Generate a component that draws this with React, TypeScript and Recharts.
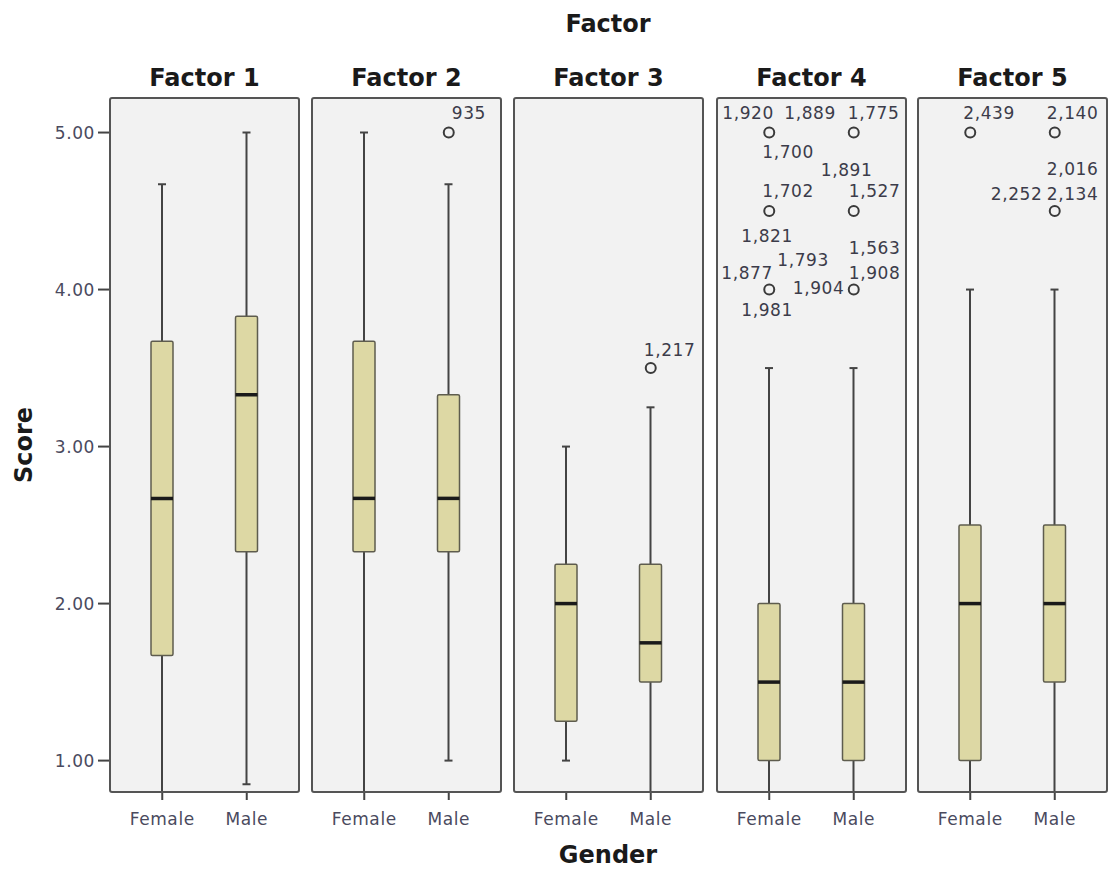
import { ComposedChart, Bar, Scatter, XAxis, YAxis, CartesianGrid } from "recharts"

const GENDERS = ["Female", "Male"]
const FACTORS = ["Factor 1", "Factor 2", "Factor 3", "Factor 4", "Factor 5"]
const Y_TICKS = [1, 2, 3, 4, 5]

// per factor, [Female, Male]
const whiskerLow = [[0.8, 0.85], [0.8, 1.0], [1.0, 0.8], [0.8, 0.8], [0.8, 0.8]]
const q1 = [[1.67, 2.33], [2.33, 2.33], [1.25, 1.5], [1.0, 1.0], [1.0, 1.5]]
const median = [[2.67, 3.33], [2.67, 2.67], [2.0, 1.75], [1.5, 1.5], [2.0, 2.0]]
const q3 = [[3.67, 3.83], [3.67, 3.33], [2.25, 2.25], [2.0, 2.0], [2.5, 2.5]]
const whiskerHigh = [[4.67, 5.0], [5.0, 4.67], [3.0, 3.25], [3.5, 3.5], [4.0, 4.0]]

// outliers: factor index, gender, value, case ids
const outlierFactor = [1, 2, 3, 3, 3, 3, 3, 3, 4, 4, 4]
const outlierGender = ["Male", "Male", "Female", "Female", "Female", "Male", "Male", "Male", "Female", "Male", "Male"]
const outlierValue = [5.0, 3.5, 5.0, 4.5, 4.0, 5.0, 4.5, 4.0, 5.0, 5.0, 4.5]
const outlierIds = [
  ["935"],
  ["1,217"],
  ["1,920", "1,889", "1,700"],
  ["1,702", "1,821"],
  ["1,793", "1,877", "1,981"],
  ["1,775"],
  ["1,891", "1,527"],
  ["1,563", "1,908", "1,904"],
  ["2,439"],
  ["2,140"],
  ["2,016", "2,252", "2,134"],
]

// label placement relative to the circle (dx to text start, dy to text middle)
const LABEL_OFFSET: Record<string, [number, number]> = {
  "935": [3, -20],
  "1,217": [-7, -18],
  "1,920": [-47, -20],
  "1,889": [15, -20],
  "1,700": [-7, 19],
  "1,775": [-6, -20],
  "1,702": [-7, -20],
  "1,821": [-28, 25],
  "1,891": [-33, -41],
  "1,527": [-5, -20],
  "1,793": [8, -30],
  "1,877": [-48, -17],
  "1,981": [-28, 20],
  "1,563": [-5, -42],
  "1,908": [-5, -17],
  "1,904": [-61, -2],
  "2,439": [-7, -20],
  "2,140": [-8, -20],
  "2,016": [-8, -42],
  "2,252": [-64, -17],
  "2,134": [-8, -17],
}

const PANEL_LEFT = [110, 312, 514, 717, 918]
const PANEL_W = 189
const PLOT_TOP = 98
const PLOT_BOTTOM = 792
const CHART_H = 872
const Y_AXIS_W = 110
const Y_DOMAIN: [number, number] = [0.8, 5.22]

const TEXT_COLOR = "#4a4a5e"
const FONT = "'DejaVu Sans', Verdana, sans-serif"

const BoxShape = (props: any) => {
  const { x, y, width, height, payload } = props
  const [lo, hi] = payload.range
  const top = Math.min(y, y + height)
  const h = Math.abs(height)
  const py = (v: number) => top + ((hi - v) / (hi - lo)) * h
  const cx = x + width / 2
  const yQ1 = py(payload.q1)
  const yQ3 = py(payload.q3)
  const yMed = py(payload.median)
  return (
    <g>
      <line x1={cx} x2={cx} y1={py(hi)} y2={yQ3} stroke="#444" strokeWidth={2} />
      <line x1={cx} x2={cx} y1={yQ1} y2={py(lo)} stroke="#444" strokeWidth={2} />
      <line x1={cx - 4} x2={cx + 4} y1={py(hi)} y2={py(hi)} stroke="#444" strokeWidth={2} />
      <line x1={cx - 4} x2={cx + 4} y1={py(lo)} y2={py(lo)} stroke="#444" strokeWidth={2} />
      <rect x={x} y={yQ3} width={width} height={yQ1 - yQ3} fill="#ddd8a4" stroke="#5e5c4e" strokeWidth={1.5} rx={1.5} />
      <line x1={x} x2={x + width} y1={yMed} y2={yMed} stroke="#1a1a1a" strokeWidth={3.5} />
    </g>
  )
}

const OutlierShape = (props: any) => {
  const { cx, cy, payload } = props
  return (
    <g>
      <circle cx={cx} cy={cy} r={5} fill="none" stroke="#3a3a3a" strokeWidth={2} />
      {payload.ids.map((id: string) => {
        const [dx, dy] = LABEL_OFFSET[id] || [-7, -20]
        return (
          <text
            key={id}
            x={cx + dx}
            y={cy + dy}
            dominantBaseline="central"
            fontSize={17}
            letterSpacing={0.6}
            fontFamily={FONT}
            fill="#3c3c4a"
          >
            {id}
          </text>
        )
      })}
    </g>
  )
}

function Panel({ index }: { index: number }) {
  const data = GENDERS.map((g, gi) => ({
    gender: g,
    range: [whiskerLow[index][gi], whiskerHigh[index][gi]],
    q1: q1[index][gi],
    median: median[index][gi],
    q3: q3[index][gi],
  }))
  const outliers = outlierFactor
    .map((f, i) => ({ f, gender: outlierGender[i], value: outlierValue[i], ids: outlierIds[i] }))
    .filter((o) => o.f === index)

  const showY = index === 0
  const left = showY ? PANEL_LEFT[index] - Y_AXIS_W : PANEL_LEFT[index]
  const width = showY ? PANEL_W + Y_AXIS_W : PANEL_W

  return (
    <div style={{ position: "absolute", left, top: 0 }}>
      <ComposedChart
        width={width}
        height={CHART_H}
        data={data}
        margin={{ top: PLOT_TOP, right: 0, bottom: CHART_H - PLOT_BOTTOM - 40, left: 0 }}
      >
        <CartesianGrid fill="#f2f2f2" horizontal={false} vertical={false} />
        <XAxis
          dataKey="gender"
          type="category"
          allowDuplicatedCategory={false}
          padding={{ left: 10, right: 10 }}
          height={40}
          axisLine={false}
          tickSize={8}
          tickMargin={13}
          tickLine={{ stroke: "#444", strokeWidth: 2 }}
          tick={{ fill: TEXT_COLOR, fontSize: 17, fontFamily: FONT, letterSpacing: 0.6 }}
          interval={0}
        />
        <YAxis
          hide={!showY}
          width={Y_AXIS_W}
          type="number"
          domain={Y_DOMAIN}
          allowDataOverflow
          ticks={Y_TICKS}
          tickFormatter={(v: number) => v.toFixed(2)}
          axisLine={false}
          tickSize={12}
          tickMargin={3}
          tickLine={{ stroke: "#444", strokeWidth: 2 }}
          tick={{ fill: TEXT_COLOR, fontSize: 17, fontFamily: FONT, letterSpacing: 0.6 }}
        />
        <Bar dataKey="range" barSize={22} shape={BoxShape} isAnimationActive={false} />
        {outliers.length > 0 && (
          <Scatter data={outliers} dataKey="value" shape={OutlierShape} isAnimationActive={false} />
        )}
      </ComposedChart>
    </div>
  )
}

export default function App() {
  return (
    <div style={{ position: "absolute", left: 0, top: 0, width: 1110, height: 872, background: "#fff" }}>
      {FACTORS.map((_, i) => (
        <Panel key={i} index={i} />
      ))}
      {PANEL_LEFT.map((l, i) => (
        <div
          key={"b" + i}
          style={{
            position: "absolute",
            left: l - 1,
            top: PLOT_TOP - 1,
            width: PANEL_W + 2,
            height: PLOT_BOTTOM - PLOT_TOP + 2,
            border: "2px solid #555",
            borderRadius: 3,
            boxSizing: "border-box",
            pointerEvents: "none",
          }}
        />
      ))}
      <svg width={1110} height={872} style={{ position: "absolute", left: 0, top: 0, pointerEvents: "none" }}>
        <g fontFamily={FONT} fontWeight="bold" fill="#1a1a1a" fontSize={24}>
          <text x={608} y={24} textAnchor="middle" dominantBaseline="central">
            Factor
          </text>
          {FACTORS.map((f, i) => (
            <text key={f} x={PANEL_LEFT[i] + PANEL_W / 2} y={78} textAnchor="middle" dominantBaseline="central">
              {f}
            </text>
          ))}
          <text x={608} y={855} textAnchor="middle" dominantBaseline="central">
            Gender
          </text>
          <text
            x={24}
            y={445}
            textAnchor="middle"
            dominantBaseline="central"
            transform="rotate(-90 24 445)"
          >
            Score
          </text>
        </g>
      </svg>
    </div>
  )
}
